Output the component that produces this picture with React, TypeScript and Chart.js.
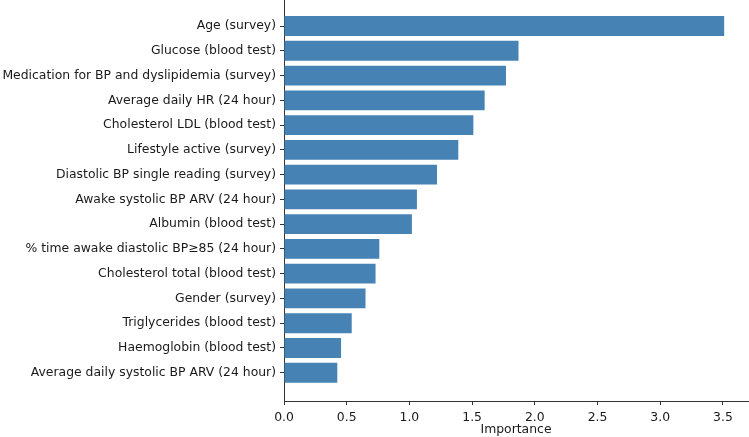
import React, { useEffect, useRef } from 'react';
import { Chart, registerables } from 'chart.js';

Chart.register(...registerables);

const features: string[] = [
  'Age (survey)',
  'Glucose (blood test)',
  'Medication for BP and dyslipidemia (survey)',
  'Average daily HR (24 hour)',
  'Cholesterol LDL (blood test)',
  'Lifestyle active (survey)',
  'Diastolic BP single reading (survey)',
  'Awake systolic BP ARV (24 hour)',
  'Albumin (blood test)',
  '% time awake diastolic BP\u226585 (24 hour)',
  'Cholesterol total (blood test)',
  'Gender (survey)',
  'Triglycerides (blood test)',
  'Haemoglobin (blood test)',
  'Average daily systolic BP ARV (24 hour)',
];

const importance: number[] = [
  3.51, 1.87, 1.77, 1.6, 1.51, 1.39, 1.22, 1.06, 1.02, 0.76, 0.73, 0.65, 0.54, 0.455, 0.425,
];

const xTicks: number[] = [0, 0.5, 1, 1.5, 2, 2.5, 3, 3.5];
const xTitle = 'Importance';

const FONT = "'DejaVu Sans', sans-serif";
const TEXT = '#1a1a1a';
const SPINE = '#333';
const FS = 12.4;

export default function App() {
  const ref = useRef<HTMLCanvasElement>(null);

  useEffect(() => {
    const chart = new Chart(ref.current!, {
      type: 'bar',
      data: {
        datasets: [
          {
            data: importance.map((v, i) => ({ x: v, y: i })) as any,
            backgroundColor: '#4682b4',
            borderWidth: 0,
            barPercentage: 0.8,
            categoryPercentage: 1,
          },
        ],
      },
      options: {
        indexAxis: 'y',
        animation: false,
        responsive: false,
        plugins: { legend: { display: false }, tooltip: { enabled: false } },
        layout: { padding: { top: 0, right: 1, bottom: 0, left: 0 } },
        scales: {
          x: {
            type: 'linear',
            min: 0,
            max: 3.7,
            offset: false,
            afterBuildTicks: (s: any) => {
              s.ticks = xTicks.map((v) => ({ value: v }));
            },
            afterFit: (s: any) => {
              s.height = 36;
            },
            border: { display: true, color: SPINE, width: 1 },
            grid: { display: true, offset: false, drawOnChartArea: false, drawTicks: true, tickLength: 4, color: SPINE },
            ticks: {
              color: TEXT,
              font: { family: FONT, size: FS },
              padding: 5,
              maxRotation: 0,
              callback: (v: any) => Number(v).toFixed(1),
            },
            title: {
              display: true,
              text: xTitle,
              color: TEXT,
              font: { family: FONT, size: FS },
              padding: { top: 0, bottom: 0 },
            },
          },
          y: {
            type: 'linear',
            reverse: true,
            offset: false,
            min: -1.05,
            max: 15.14,
            afterBuildTicks: (s: any) => {
              s.ticks = features.map((_, i) => ({ value: i }));
            },
            afterFit: (s: any) => {
              s.width = 284;
              s.paddingTop = 0;
              s.paddingBottom = 0;
            },
            border: { display: true, color: SPINE, width: 1 },
            grid: { display: true, offset: false, drawOnChartArea: false, drawTicks: true, tickLength: 4, color: SPINE },
            ticks: {
              color: TEXT,
              font: { family: FONT, size: FS },
              padding: 4,
              autoSkip: false,
              callback: (v: any) => features[Number(v)] ?? '',
            },
          },
        },
      },
    } as any);
    return () => chart.destroy();
  }, []);

  return (
    <div style={{ position: 'fixed', left: 0, top: 0, width: 749, height: 437, background: '#fff' }}>
      <canvas ref={ref} width={749} height={437} />
    </div>
  );
}
